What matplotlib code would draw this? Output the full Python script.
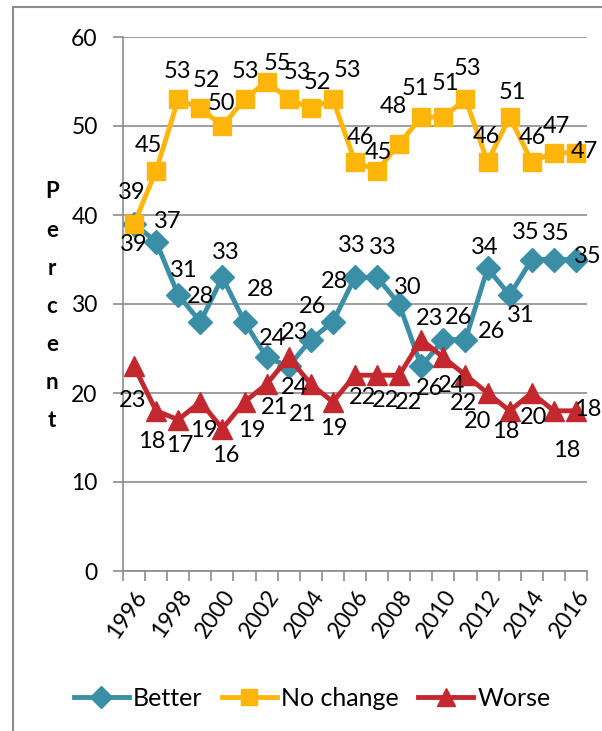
import matplotlib
matplotlib.use("Agg")
import matplotlib.pyplot as plt
from matplotlib.lines import Line2D
import numpy as np

plt.rcParams['font.family'] = ['Lato', 'DejaVu Sans']

years = list(range(1996, 2017))
better = [39, 37, 31, 28, 33, 28, 24, 23, 26, 28, 33, 33, 30, 23, 26, 26, 34, 31, 35, 35, 35]
no_change = [39, 45, 53, 52, 50, 53, 55, 53, 52, 53, 46, 45, 48, 51, 51, 53, 46, 51, 46, 47, 47]
worse = [23, 18, 17, 19, 16, 19, 21, 24, 21, 19, 22, 22, 22, 26, 24, 22, 20, 18, 20, 18, 18]
tick_years = [str(y) for y in years[::2]]

# label offsets from each point, in pixels (dx, dy up)
off_better = [(0, -21), (12, 20), (5, 25), (0, 25), (3, 25), (16, 32), (6, 19), (6, 34), (2, 33),
              (2, 40), (-3, 32), (6, 30), (9, 17), (8, 48), (15, 22), (26, 8), (-3, 21), (11, -20),
              (-6, 27), (2, 26), (12, 3)]
off_nochg = [(-2, 31), (-8, 25), (-1, 28), (6, 28), (-1, 23), (1, 28), (11, 18), (9, 27), (7, 26),
             (15, 29), (5, 24), (1, 18), (-6, 37), (-6, 29), (2, 34), (2, 31), (-1, 25), (3, 25),
             (1, 24), (3, 26), (8, 1)]
off_worse = [(-1, -34), (-4, -31), (1, -26), (3, -29), (3, -27), (7, -29), (8, -23), (6, -30),
             (-8, -30), (1, -27), (7, -22), (8, -25), (9, -27), (8, -49), (8, -28), (-2, -28),
             (-10, -29), (-4, -21), (2, -25), (13, -40), (12, 1)]

c_better = '#3A8FA6'
c_nochg = '#FFB50A'
c_worse = '#C3282E'

fig = plt.figure(figsize=(6.02, 7.31), dpi=100)
fig.add_artist(Line2D([13/602, 13/602], [0, 1-7/731], color='#8c8c8c', lw=1.5, transform=fig.transFigure))
fig.add_artist(Line2D([13/602, 1], [1-7/731, 1-7/731], color='#8c8c8c', lw=1.5, transform=fig.transFigure))

ax = fig.add_axes([123/602, 1-571/731, 464/602, 534/731])
x = np.arange(len(years))

ax.set_xlim(-0.5, len(years)-0.5)
ax.set_ylim(0, 60)
ax.set_yticks(range(0, 61, 10))
ax.yaxis.grid(True, color='#8c8c8c', lw=1.2)
ax.set_axisbelow(True)
for s in ['top', 'right']:
    ax.spines[s].set_visible(False)
for s in ['left', 'bottom']:
    ax.spines[s].set_color('#8c8c8c')
    ax.spines[s].set_linewidth(1.2)
ax.tick_params(axis='y', length=7.2, width=1.2, color='#8c8c8c', labelsize=16.5, pad=11)

ax.set_xticks(np.arange(-0.5, len(years), 1), minor=True)
ax.set_xticks(x[::2])
ax.set_xticklabels(tick_years, rotation=55, ha='right', va='top', rotation_mode='anchor', fontsize=16.5)
ax.tick_params(axis='x', which='major', length=0, pad=11)
ax.tick_params(axis='x', which='minor', length=7, color='#8c8c8c', width=1.2)

lw = 3.5
ax.plot(x, better, color=c_better, lw=lw, marker='D', ms=12, label='Better', zorder=3)
ax.plot(x, no_change, color=c_nochg, lw=lw, marker='s', ms=13.5, label='No change', zorder=3)
ax.plot(x, worse, color=c_worse, lw=lw, marker='^', ms=14, label='Worse', zorder=3)

def lab(vals, offs):
    for i, (v, o) in enumerate(zip(vals, offs)):
        ax.annotate(str(v), (i, v), xytext=o, textcoords='offset pixels',
                    ha='center', va='center', fontsize=17, zorder=5)

lab(better, off_better)
lab(no_change, off_nochg)
lab(worse, off_worse)

fig.text(52/602, 1-306/731, 'P\ne\nr\nc\ne\nn\nt', ha='center', va='center',
         fontsize=16, fontweight='bold', linespacing=2.0)

handles = [Line2D([0], [0], color=c_better, lw=lw, marker='D', ms=11),
           Line2D([0], [0], color=c_nochg, lw=lw, marker='s', ms=12),
           Line2D([0], [0], color=c_worse, lw=lw, marker='^', ms=13)]
fig.legend(handles, ['Better', 'No change', 'Worse'], loc='center', bbox_to_anchor=(312/602, 1-698/731),
           ncol=3, frameon=False, fontsize=18, handlelength=2.2, handletextpad=0.15, columnspacing=0.8)

fig.savefig('out.png', dpi=100)
